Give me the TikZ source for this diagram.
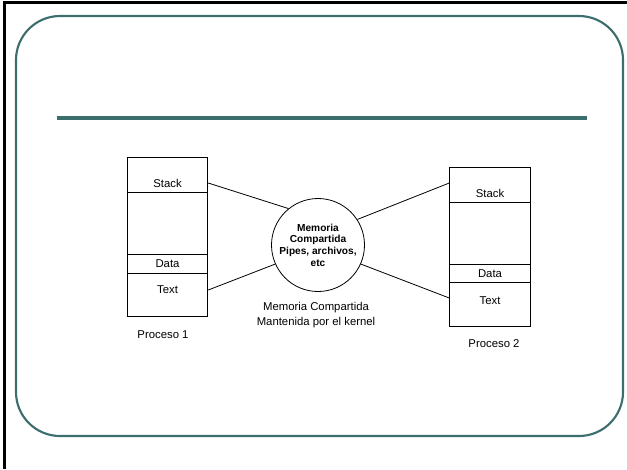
\documentclass[tikz,border=0pt]{standalone}
\usepackage{fontspec}
\setmainfont{Liberation Sans}
\definecolor{slideteal}{RGB}{61,110,110}
\tikzset{
  lbl/.style={font=\fontsize{8.5}{11.25}\selectfont, inner sep=0pt, align=center},
  procbox/.style={draw, line width=0.6pt, minimum width=60.5pt, minimum height=119.25pt, inner sep=0pt},
  link/.style={line width=0.6pt}
}
\begin{document}
\begin{tikzpicture}[x=0.75pt,y=-0.75pt]
\useasboundingbox (0,0) rectangle (627,469);
% marco de la diapositiva
\draw [line width=2.2pt] (4.5,469) -- (4.5,2.5) -- (627,2.5);
\draw [slideteal, line width=1.6pt, rounded corners=33pt] (16,16) rectangle (623,436);
\draw [slideteal, line width=2.4pt] (57,118) -- (587,118);
% proceso 1
\node[procbox] (proc1) at (167.5,236.5) {};
\foreach \y in {192,254,273}
	\draw [line width=0.6pt] (127,\y) -- (208,\y);
\node[lbl] (stk1) at (167.5,183) {Stack};
\node[lbl] (dat1) at (167.5,264) {Data};
\node[lbl] (txt1) at (167.5,290) {Text};
\node[lbl] (name1) at (163,335) {Proceso 1};
% proceso 2
\node[procbox] (proc2) at (490,246.5) {};
\foreach \y in {202,264,282}
	\draw [line width=0.6pt] (450,\y) -- (530,\y);
\node[lbl] (stk2) at (490,193) {Stack};
\node[lbl] (dat2) at (490,274) {Data};
\node[lbl] (txt2) at (490,301) {Text};
\node[lbl] (name2) at (494,344) {Proceso 2};
% memoria compartida
\node[circle, draw, line width=0.6pt, minimum size=69.75pt, inner sep=0pt, align=center,
  font=\bfseries\fontsize{7.6}{8.8}\selectfont] (mem) at (318,245)
  {Memoria\\Compartida\\Pipes, archivos,\\etc};
\node[lbl] (cap) at (316,315.5) {Memoria Compartida\\Mantenida por el kernel};
% conexiones
\coordinate (in2s) at ([yshift=7.5pt]proc2.west |- stk2);
\coordinate (in2t) at ([yshift=2.25pt]proc2.west |- txt2);
\draw [link] (proc1.east |- stk1) -- (mem.129);
\draw [link] (proc1.east |- txt1) -- (mem.204);
\draw [link] (in2s) -- (mem.33);
\draw [link] (in2t) -- (mem.-24);
\end{tikzpicture}
\end{document}
